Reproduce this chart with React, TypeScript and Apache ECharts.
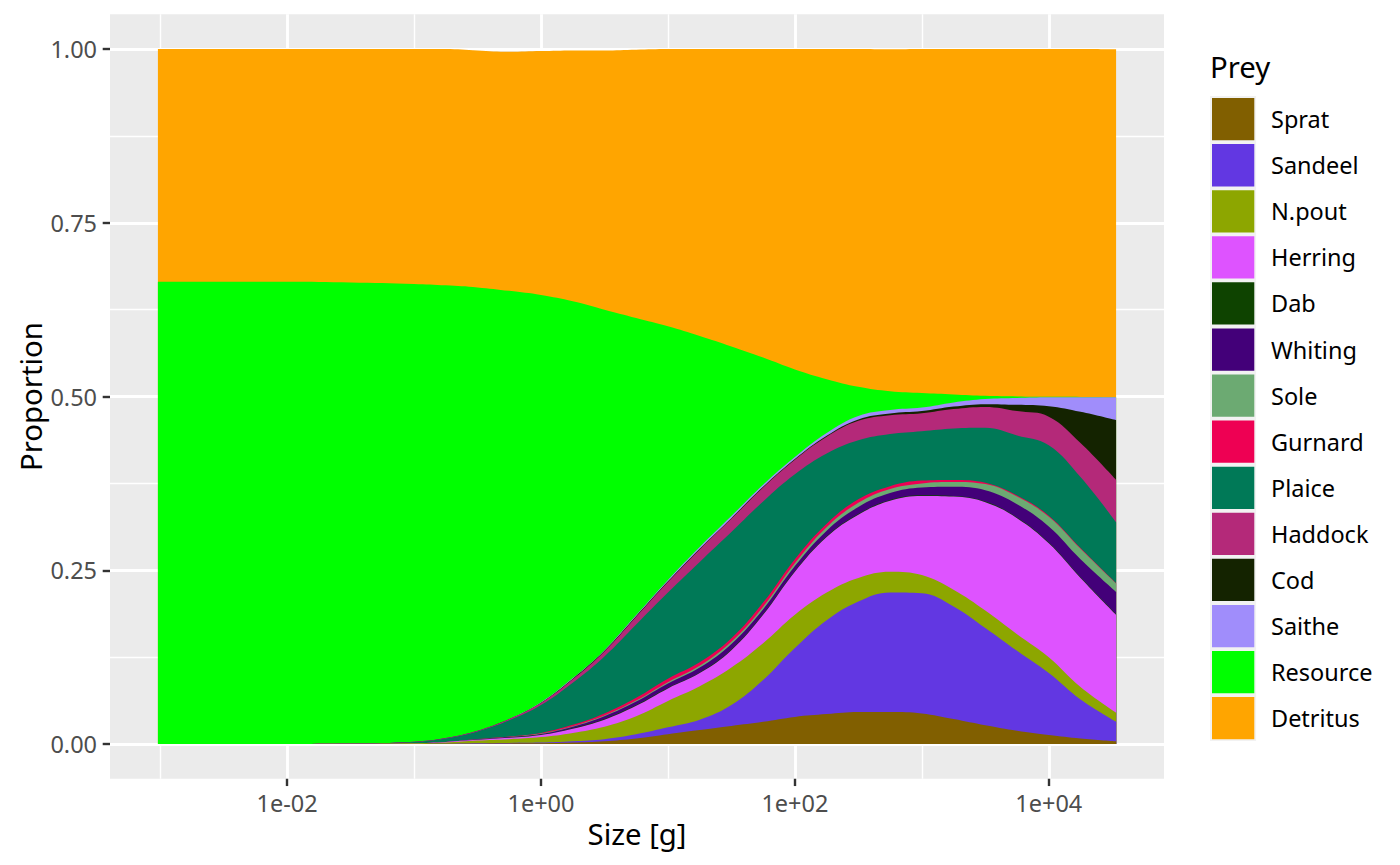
import React, { useEffect, useRef } from "react";
import * as echarts from "echarts";

// Body size grid [g]
const SIZES = [0.00096, 0.00316, 0.01, 0.0316, 0.1, 0.178, 0.316, 0.562, 1, 1.78, 3.16, 5.62, 10, 17.8, 31.6, 56.2, 100, 178, 316, 562, 1000, 1778, 3162, 5623, 10000, 17783, 33900];

const SPECIES = ["Sprat", "Sandeel", "N.pout", "Herring", "Dab", "Whiting", "Sole", "Gurnard", "Plaice", "Haddock", "Cod", "Saithe", "Resource", "Detritus"];
const COLORS = ["#815F00", "#6237E2", "#8DA600", "#DE53FF", "#0E4300", "#430079", "#6CAA72", "#EE0053", "#007957", "#B42979", "#142300", "#A08DFB", "#00FF00", "#FFA500"];

const SPRAT = [0, 0, 0, 0, 0, 0.0002, 0.0005, 0.0008, 0.001, 0.002, 0.004, 0.008, 0.014, 0.020, 0.026, 0.032, 0.039, 0.043, 0.046, 0.046, 0.044, 0.036, 0.027, 0.019, 0.013, 0.008, 0.004];
const SANDEEL = [0, 0, 0, 0, 0, 0, 0.0005, 0.0007, 0.001, 0.002, 0.003, 0.006, 0.010, 0.015, 0.030, 0.060, 0.099, 0.135, 0.159, 0.172, 0.173, 0.162, 0.140, 0.115, 0.089, 0.056, 0.028];
const NPOUT = [0, 0, 0, 0.0002, 0.001, 0.0018, 0.004, 0.0055, 0.008, 0.012, 0.018, 0.026, 0.038, 0.048, 0.054, 0.053, 0.048, 0.040, 0.034, 0.030, 0.026, 0.024, 0.025, 0.024, 0.023, 0.018, 0.013];
const HERRING = [0, 0, 0, 0, 0.0002, 0.001, 0.001, 0.002, 0.003, 0.006, 0.010, 0.015, 0.018, 0.019, 0.025, 0.041, 0.062, 0.080, 0.091, 0.102, 0.114, 0.134, 0.156, 0.167, 0.164, 0.157, 0.141];
const DAB = [0, 0, 0, 0, 0, 0, 0.0002, 0.0003, 0.0005, 0.0008, 0.001, 0.001, 0.001, 0.001, 0.001, 0.001, 0.001, 0.001, 0.001, 0.001, 0.001, 0.001, 0.001, 0.001, 0.001, 0.001, 0.001];
const WHITING = [0, 0, 0, 0, 0, 0, 0.0005, 0.0008, 0.001, 0.002, 0.004, 0.005, 0.006, 0.007, 0.008, 0.007, 0.007, 0.008, 0.010, 0.010, 0.011, 0.013, 0.016, 0.019, 0.023, 0.026, 0.032];
const SOLE = [0, 0, 0, 0, 0, 0, 0, 0, 0.0005, 0.0008, 0.001, 0.0015, 0.002, 0.0025, 0.003, 0.0035, 0.004, 0.005, 0.006, 0.006, 0.006, 0.007, 0.009, 0.011, 0.014, 0.015, 0.012];
const GURNARD = [0, 0, 0, 0, 0, 0, 0.0005, 0.0008, 0.001, 0.002, 0.003, 0.004, 0.005, 0.005, 0.005, 0.006, 0.006, 0.005, 0.005, 0.004, 0.004, 0.003, 0.002, 0.0015, 0.0015, 0.001, 0.0005];
const PLAICE = [0, 0, 0, 0.0003, 0.0018, 0.005, 0.0108, 0.0231, 0.040, 0.0604, 0.082, 0.1055, 0.124, 0.1445, 0.153, 0.1455, 0.122, 0.101, 0.085, 0.075, 0.071, 0.074, 0.079, 0.0865, 0.1015, 0.102, 0.0875];
const HADDOCK = [0, 0, 0, 0, 0.0002, 0.0005, 0.001, 0.002, 0.003, 0.005, 0.007, 0.011, 0.015, 0.018, 0.019, 0.020, 0.021, 0.024, 0.028, 0.027, 0.026, 0.028, 0.030, 0.035, 0.041, 0.049, 0.061];
const COD = [0, 0, 0, 0, 0, 0, 0, 0, 0.0005, 0.001, 0.001, 0.001, 0.001, 0.001, 0.001, 0.001, 0.001, 0.0015, 0.002, 0.0025, 0.003, 0.0035, 0.004, 0.009, 0.015, 0.045, 0.086];
const SAITHE = [0, 0, 0, 0, 0, 0, 0, 0, 0.0005, 0.0008, 0.001, 0.0015, 0.002, 0.0025, 0.003, 0.003, 0.003, 0.004, 0.005, 0.005, 0.005, 0.006, 0.0075, 0.010, 0.013, 0.021, 0.033];
const RESOURCE = [0.665, 0.665, 0.665, 0.6635, 0.6588, 0.6515, 0.638, 0.616, 0.586, 0.5422, 0.490, 0.4275, 0.365, 0.3035, 0.244, 0.183, 0.126, 0.0775, 0.042, 0.027, 0.021, 0.0115, 0.0045, 0.002, 0.0005, 0.0003, 0];
const DETRITUS = [0.335, 0.335, 0.335, 0.336, 0.338, 0.340, 0.341, 0.344, 0.351, 0.361, 0.373, 0.386, 0.399, 0.413, 0.428, 0.444, 0.461, 0.475, 0.486, 0.492, 0.495, 0.497, 0.499, 0.500, 0.5005, 0.5007, 0.5005];

const SERIES_VALUES = [SPRAT, SANDEEL, NPOUT, HERRING, DAB, WHITING, SOLE, GURNARD, PLAICE, HADDOCK, COD, SAITHE, RESOURCE, DETRITUS];

const X_TICKS = [-2, 0, 2, 4];
const X_TICK_LABELS = ["1e-02", "1e+00", "1e+02", "1e+04"];
const X_MINOR = [-3, -1, 1, 3];
const Y_TICKS = [0, 0.25, 0.5, 0.75, 1];
const Y_TICK_LABELS = ["0.00", "0.25", "0.50", "0.75", "1.00"];
const Y_MINOR = [0.125, 0.375, 0.625, 0.875];

const FONT = "'Noto Sans', 'DejaVu Sans', sans-serif";

function lookup(ticks: number[], labels: string[], v: number): string {
  for (let i = 0; i < ticks.length; i++) {
    if (Math.abs(ticks[i] - v) < 1e-6) return labels[i];
  }
  return "";
}

export default function App() {
  const ref = useRef<HTMLDivElement>(null);

  useEffect(() => {
    document.body.style.margin = "0";
    if (!ref.current) return;
    const chart = echarts.init(ref.current, null, { renderer: "svg" });

    const logX = SIZES.map((s) => Math.log10(s));
    const span = logX[logX.length - 1] - logX[0];
    const xMin = logX[0] - 0.05 * span;
    const xMax = logX[logX.length - 1] + 0.05 * span;

    // cumulative tops of the stack (bottom = Sprat)
    const cumulative: number[][] = [];
    SERIES_VALUES.forEach((vals, i) => {
      cumulative.push(vals.map((v, j) => v + (i > 0 ? cumulative[i - 1][j] : 0)));
    });

    const gridLeft = 110;
    const gridTop = 14.25;
    const gridRight = 236;
    const gridBottom = 86.25;

    const keySize = 46.08;

    // draw top-most layer first; each area fills down to zero and lower layers paint over it
    const order = SPECIES.map((_, i) => SPECIES.length - 1 - i);

    const option: any = {
      animation: false,
      backgroundColor: "#FFFFFF",
      textStyle: { fontFamily: FONT },
      grid: {
        left: gridLeft,
        top: gridTop,
        right: gridRight,
        bottom: gridBottom,
        show: true,
        backgroundColor: "#EBEBEB",
        borderWidth: 0,
        containLabel: false,
      },
      xAxis: [
        {
          type: "value",
          min: xMin,
          max: xMax,
          axisLine: { show: false, onZero: false },
          axisTick: {
            show: true,
            customValues: X_TICKS,
            length: 7.3,
            lineStyle: { color: "#333333", width: 2.4 },
          },
          axisLabel: {
            customValues: X_TICKS,
            formatter: (v: number) => lookup(X_TICKS, X_TICK_LABELS, v),
            margin: 13,
            fontSize: 23.47,
            color: "#4D4D4D",
            fontFamily: FONT,
          },
          splitLine: { show: true, lineStyle: { color: "#FFFFFF", width: 2.85 } },
        },
        {
          type: "value",
          min: xMin,
          max: xMax,
          position: "top",
          axisLine: { show: false, onZero: false },
          axisTick: { show: false, customValues: X_MINOR },
          axisLabel: { show: false, customValues: X_MINOR },
          splitLine: { show: true, lineStyle: { color: "#FFFFFF", width: 1.42 } },
        },
      ],
      yAxis: [
        {
          type: "value",
          min: -0.05,
          max: 1.05,
          axisLine: { show: false, onZero: false },
          axisTick: {
            show: true,
            customValues: Y_TICKS,
            length: 7.3,
            lineStyle: { color: "#333333", width: 2.4 },
          },
          axisLabel: {
            customValues: Y_TICKS,
            formatter: (v: number) => lookup(Y_TICKS, Y_TICK_LABELS, v),
            margin: 13,
            fontSize: 23.47,
            color: "#4D4D4D",
            fontFamily: FONT,
          },
          splitLine: { show: true, lineStyle: { color: "#FFFFFF", width: 2.85 } },
        },
        {
          type: "value",
          min: -0.05,
          max: 1.05,
          position: "right",
          axisLine: { show: false, onZero: false },
          axisTick: { show: false, customValues: Y_MINOR },
          axisLabel: { show: false, customValues: Y_MINOR },
          splitLine: { show: true, lineStyle: { color: "#FFFFFF", width: 1.42 } },
        },
      ],
      legend: {
        orient: "vertical",
        left: 1212,
        top: 98,
        padding: 0,
        itemWidth: 42.3,
        itemHeight: 42.3,
        itemGap: keySize - 42.3,
        icon: "rect",
        selectedMode: false,
        data: SPECIES,
        z: 10,
        textStyle: {
          fontSize: 23.47,
          color: "#000000",
          fontFamily: FONT,
          padding: [0, 0, 0, 11.7],
        },
      },
      graphic: [
        {
          type: "rect",
          z: 1,
          shape: { x: 1210, y: 96, width: keySize, height: keySize * SPECIES.length },
          style: { fill: "#F2F2F2" },
          silent: true,
        },
        {
          type: "text",
          x: 1210,
          y: 67,
          style: {
            text: "Prey",
            fontSize: 29.33,
            fontFamily: FONT,
            fill: "#000000",
            textAlign: "left",
            textVerticalAlign: "middle",
          },
          silent: true,
        },
        {
          type: "text",
          x: (gridLeft + (1400 - gridRight)) / 2,
          y: 834,
          style: {
            text: "Size [g]",
            fontSize: 29.33,
            fontFamily: FONT,
            fill: "#000000",
            textAlign: "center",
            textVerticalAlign: "middle",
          },
          silent: true,
        },
        {
          type: "text",
          x: 31,
          y: (gridTop + (865 - gridBottom)) / 2,
          rotation: Math.PI / 2,
          style: {
            text: "Proportion",
            fontSize: 29.33,
            fontFamily: FONT,
            fill: "#000000",
            textAlign: "center",
            textVerticalAlign: "middle",
          },
          silent: true,
        },
      ],
      series: order.map((i) => ({
        name: SPECIES[i],
        type: "line",
        smooth: 0.4,
        symbol: "none",
        showSymbol: false,
        xAxisIndex: 0,
        yAxisIndex: 0,
        silent: true,
        color: COLORS[i],
        data: logX.map((x, j) => [x, cumulative[i][j]]),
        lineStyle: { width: 0, color: COLORS[i] },
        itemStyle: { color: COLORS[i] },
        areaStyle: { color: COLORS[i], opacity: 1, origin: 0 },
        emphasis: { disabled: true },
      })),
    };

    chart.setOption(option);
    return () => {
      chart.dispose();
    };
  }, []);

  return (
    <div
      ref={ref}
      style={{ position: "absolute", left: 0, top: 0, width: 1400, height: 865 }}
    />
  );
}
